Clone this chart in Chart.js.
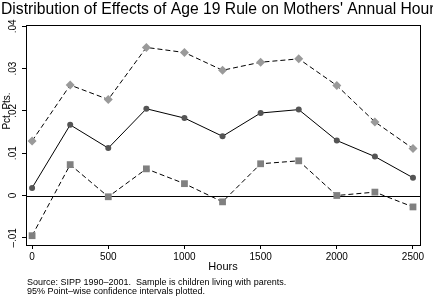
<!DOCTYPE html>
<html>
<head>
<meta charset="utf-8">
<script src="https://cdn.jsdelivr.net/npm/chart.js@4.4.0/dist/chart.umd.min.js"></script>
<style>
html, body { margin: 0; padding: 0; background: #fff; }
#wrap { width: 433px; height: 297px; }
</style>
</head>
<body>
<div id="wrap"><canvas id="graphCanvas" width="433" height="297"></canvas></div>
<script>
// hours
var hours = [0, 250, 500, 750, 1000, 1250, 1500, 1750, 2000, 2250, 2500];
// point estimate and 95% bounds (pct. pts.)
var estimate = [0.0018, 0.0167, 0.0112, 0.0205, 0.0183, 0.0140, 0.0195, 0.0203, 0.0130, 0.0092, 0.0042];
var upper = [0.0129, 0.0261, 0.0227, 0.0350, 0.0338, 0.0296, 0.0315, 0.0323, 0.0260, 0.0174, 0.0111];
var lower = [-0.0095, 0.0073, -0.0003, 0.0063, 0.0028, -0.0015, 0.0075, 0.0082, 0.0000, 0.0008, -0.0027];
var yTicks = [-0.01, 0, 0.01, 0.02, 0.03, 0.04];
var yTickLabels = ["\u2013.01", "0", ".01", ".02", ".03", ".04"];
var xTicks = [0, 500, 1000, 1500, 2000, 2500];

var titleText = "Distribution of Effects of Age 19 Rule on Mothers' Annual Hours";
var yTitle = "Pct. Pts.";
var xTitle = "Hours";
var notes = ["Source: SIPP 1990\u20132001.  Sample is children living with parents.",
             "95% Point\u2013wise confidence intervals plotted."];

function pts(arr) {
    var out = [];
    for (var i = 0; i < hours.length; i++) out.push({x: hours[i], y: arr[i]});
    return out;
}

var font = "'Liberation Sans', Arial, Helvetica, sans-serif";

var extras = {
    id: 'extras',
    beforeDatasetsDraw: function(chart) {
        var ctx = chart.ctx, ys = chart.scales.y, a = chart.chartArea;
        ctx.save();
        // zero line
        var y0 = Math.round(ys.getPixelForValue(0)) + 0.5;
        ctx.strokeStyle = '#000';
        ctx.lineWidth = 1;
        ctx.beginPath();
        ctx.moveTo(a.left, y0);
        ctx.lineTo(a.right, y0);
        ctx.stroke();
        ctx.restore();
    },
    afterDraw: function(chart) {
        var ctx = chart.ctx, ys = chart.scales.y;
        ctx.save();
        ctx.fillStyle = '#000';
        // title (runs off the canvas like the original)
        ctx.font = '15.7px ' + font;
        ctx.textBaseline = 'alphabetic';
        ctx.textAlign = 'left';
        ctx.fillText(titleText, 1, 14);
        // y tick labels, rotated
        ctx.textBaseline = 'middle';
        ctx.font = '10px ' + font;
        ctx.textAlign = 'center';
        for (var i = 0; i < yTicks.length; i++) {
            var py = ys.getPixelForValue(yTicks[i]);
            ctx.save();
            ctx.translate(13, py);
            ctx.rotate(-Math.PI / 2);
            ctx.fillText(yTickLabels[i], 0, 0);
            ctx.restore();
        }
        // y title
        ctx.save();
        ctx.font = '10px ' + font;
        ctx.translate(7, 111);
        ctx.rotate(-Math.PI / 2);
        ctx.fillText(yTitle, 0, 0);
        ctx.restore();
        // x title
        ctx.font = '11px ' + font;
        ctx.fillText(xTitle, 223, 267);
        // notes
        ctx.font = '9px ' + font;
        ctx.textAlign = 'left';
        ctx.fillText(notes[0], 27, 283);
        ctx.fillText(notes[1], 27, 292);
        ctx.restore();
    }
};

new Chart(document.getElementById('graphCanvas'), {
    type: 'line',
    data: {
        datasets: [{
            label: 'Upper',
            data: pts(upper),
            borderColor: '#000',
            borderWidth: 1,
            borderDash: [5, 3],
            pointStyle: 'rectRot',
            pointRadius: 4.5,
            pointBackgroundColor: '#9a9a9a',
            pointBorderColor: '#9a9a9a',
            pointBorderWidth: 0,
            tension: 0
        }, {
            label: 'Estimate',
            data: pts(estimate),
            borderColor: '#000',
            borderWidth: 1,
            pointStyle: 'circle',
            pointRadius: 3,
            pointBackgroundColor: '#555',
            pointBorderColor: '#555',
            pointBorderWidth: 0,
            tension: 0
        }, {
            label: 'Lower',
            data: pts(lower),
            borderColor: '#000',
            borderWidth: 1,
            borderDash: [5, 3],
            pointStyle: 'rect',
            pointRadius: 4.8,
            pointBackgroundColor: '#808080',
            pointBorderColor: '#808080',
            pointBorderWidth: 0,
            tension: 0
        }]
    },
    options: {
        responsive: false,
        animation: false,
        devicePixelRatio: 1,
        layout: { padding: { top: 25, right: 13, left: 0, bottom: 0 } },
        plugins: { legend: { display: false }, tooltip: { enabled: false }, title: { display: false } },
        scales: {
            x: {
                type: 'linear',
                min: -40,
                max: 2546,
                afterBuildTicks: function(s) { s.ticks = xTicks.map(function(v) { return {value: v}; }); },
                afterFit: function(s) { s.height = 52; },
                border: { display: true, color: '#000', width: 1 },
                grid: { display: true, drawOnChartArea: false, drawTicks: true, tickLength: 4, color: '#000' },
                ticks: {
                    color: '#000', font: { family: font, size: 10 }, padding: 2, maxRotation: 0, autoSkip: false,
                    callback: function(v) { return String(v); }
                }
            },
            y: {
                min: -0.0117,
                max: 0.0403,
                afterBuildTicks: function(s) { s.ticks = yTicks.map(function(v) { return {value: v}; }); },
                afterFit: function(s) { s.width = 26; },
                border: { display: true, color: '#000', width: 1 },
                grid: { display: true, drawOnChartArea: false, drawTicks: true, tickLength: 4, color: '#000' },
                ticks: { display: false }
            },
            x2: {
                type: 'linear', position: 'top', min: -40, max: 2546,
                afterFit: function(s) { s.height = 0; },
                border: { display: true, color: '#000', width: 1 },
                grid: { display: false }, ticks: { display: false }
            },
            y2: {
                position: 'right', min: -0.0117, max: 0.0403,
                afterFit: function(s) { s.width = 0; },
                border: { display: true, color: '#000', width: 1 },
                grid: { display: false }, ticks: { display: false }
            }
        }
    },
    plugins: [extras]
});
</script>
</body>
</html>
